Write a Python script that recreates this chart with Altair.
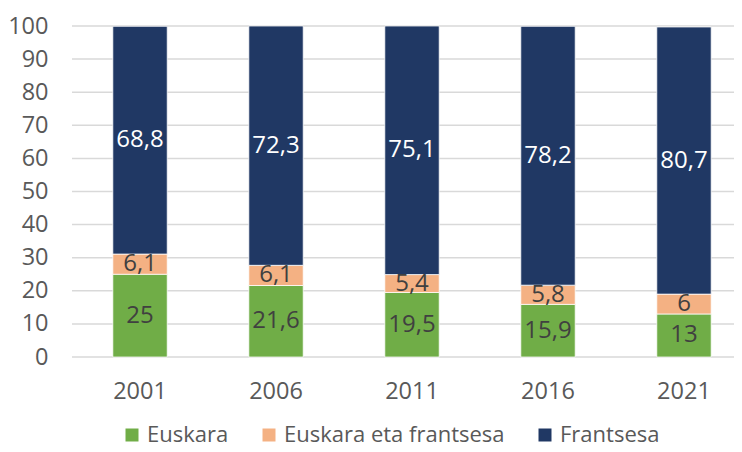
import altair as alt
import pandas as pd

years = ["2001", "2006", "2011", "2016", "2021"]
series = ["Euskara", "Euskara eta frantsesa", "Frantsesa"]
colors = ["#70AD47", "#F4B183", "#203864"]
euskara = [25, 21.6, 19.5, 15.9, 13]
biak = [6.1, 6.1, 5.4, 5.8, 6]
frantsesa = [68.8, 72.3, 75.1, 78.2, 80.7]
y_ticks = list(range(0, 101, 10))

rows = []
for i, y in enumerate(years):
    for k, (s, vals) in enumerate(zip(series, [euskara, biak, frantsesa])):
        v = vals[i]
        rows.append({"year": y, "series": s, "value": v, "ord": k,
                     "label": f"{v:g}".replace(".", ",")})
df = pd.DataFrame(rows)
grid_df = pd.DataFrame({"t": y_ticks})

FONT = "Open Sans"
GRAY = "#595959"
W, H = 662, 331

x_scale = alt.Scale(paddingInner=0.6, paddingOuter=0.234, align=0.6415)
y_scale = alt.Scale(domain=[0, 100], nice=False)
x_axis = alt.Axis(labelAngle=0, domain=False, ticks=False,
                  labelPadding=22, labelFontSize=23.5, labelColor=GRAY,
                  labelFont=FONT, grid=False, title=None)
y_axis = alt.Axis(values=y_ticks, domain=False, ticks=False,
                  labelPadding=24, labelFontSize=23.5, labelColor=GRAY,
                  labelFont=FONT, labelOverlap=False, grid=False, title=None)

grid = alt.Chart(grid_df).mark_rule(color="#D9D9D9", strokeWidth=1.5).encode(
    y=alt.Y("t:Q", scale=y_scale, axis=y_axis),
    x=alt.value(0),
    x2=alt.value(W),
)

base = alt.Chart(df)

bars = base.mark_bar(stroke="white", strokeWidth=0.75).encode(
    x=alt.X("year:N", sort=years, scale=x_scale, axis=x_axis),
    y=alt.Y("value:Q", stack="zero", scale=y_scale, axis=y_axis),
    color=alt.Color("series:N", scale=alt.Scale(domain=series, range=colors),
                    legend=alt.Legend(title=None, orient="none", direction="horizontal",
                                      legendX=49, legendY=398,
                                      symbolType="square", symbolSize=169,
                                      symbolStrokeWidth=0, labelOffset=4,
                                      columnPadding=29, labelFontSize=22,
                                      labelLimit=400,
                                      labelColor=GRAY, labelFont=FONT, padding=0)),
    order=alt.Order("ord:Q", sort="ascending"),
)

text = base.transform_stack(
    stack="value", groupby=["year"], sort=[alt.SortField("ord", order="ascending")],
    as_=["y0", "y1"]
).transform_calculate(
    mid="(datum.y0 + datum.y1) / 2"
).mark_text(fontSize=24, font=FONT, baseline="middle").encode(
    x=alt.X("year:N", sort=years, scale=x_scale, axis=x_axis),
    y=alt.Y("mid:Q", scale=y_scale, axis=y_axis),
    text="label:N",
    color=alt.condition(alt.datum.series == "Frantsesa", alt.value("#FFFFFF"), alt.value("#404040")),
)

chart = alt.layer(grid, bars, text).properties(
    width=W, height=H,
    autosize=alt.AutoSizeParams(type="none"),
    padding={"left": 64, "top": 18, "right": 0, "bottom": 87},
).configure(font=FONT).configure_view(stroke=None)

chart.save("out.html", embed_options={"renderer": "svg", "actions": False})
